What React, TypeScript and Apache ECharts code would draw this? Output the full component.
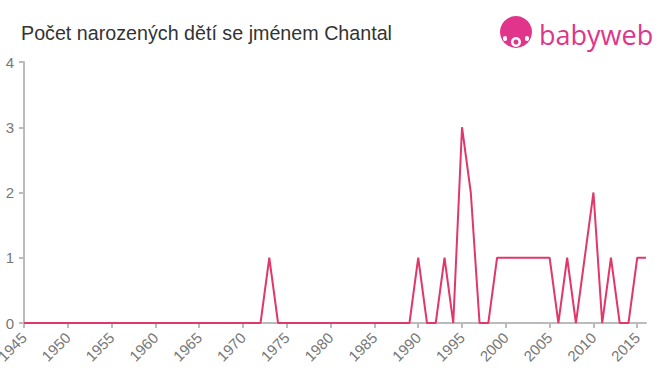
import React, { useEffect, useRef } from "react";
import * as echarts from "echarts";

const years: number[] = [];
for (let y = 1945; y <= 2016; y++) years.push(y);

const nonZero: Record<number, number> = {
  1973: 1,
  1990: 1,
  1993: 1,
  1995: 3,
  1996: 2,
  1999: 1,
  2000: 1,
  2001: 1,
  2002: 1,
  2003: 1,
  2004: 1,
  2005: 1,
  2007: 1,
  2009: 1,
  2010: 2,
  2012: 1,
  2015: 1,
  2016: 1,
};

const counts: number[] = years.map((y) => nonZero[y] ?? 0);

const title = "Počet narozených dětí se jménem Chantal";

export default function App() {
  const ref = useRef<HTMLDivElement>(null);
  useEffect(() => {
    const chart = echarts.init(ref.current!, null, { renderer: "svg" });
    chart.setOption({
      animation: false,
      title: {
        text: title,
        left: 16,
        top: 18,
        textStyle: { fontSize: 19.7, fontWeight: "normal", color: "#333", fontFamily: "Liberation Sans, Arial, sans-serif" },
      },
      graphic: [
        { type: "circle", shape: { cx: 516, cy: 32, r: 16 }, style: { fill: "#e0358a" } },
        { type: "circle", shape: { cx: 516, cy: 42, r: 5 }, style: { fill: "#fff" } },
        { type: "circle", shape: { cx: 516, cy: 42, r: 2.5 }, style: { fill: "#e0358a" } },
        { type: "rect", shape: { x: 503, y: 36, width: 4, height: 5, r: 2 }, style: { fill: "#fff" } },
        { type: "rect", shape: { x: 525, y: 36, width: 4, height: 5, r: 2 }, style: { fill: "#fff" } },
        {
          type: "text",
          x: 539,
          y: 34,
          style: {
            text: "babyweb",
            fill: "#e0358a",
            fontSize: 27,
            fontWeight: 500,
            fontFamily: "Open Sans, Arial, sans-serif",
            verticalAlign: "middle",
          },
        },
      ],
      grid: { left: 24, right: 14, top: 62, bottom: 52, outerBoundsMode: "none", containLabel: false },
      xAxis: {
        type: "value",
        min: 1945,
        max: 2016,
        interval: 5,
        axisLine: { lineStyle: { color: "#bbb", width: 2 } },
        axisTick: { show: true, length: 5, lineStyle: { color: "#bbb", width: 2 } },
        splitLine: { show: false },
        axisLabel: {
          rotate: 45,
          color: "#777",
          fontSize: 15,
          margin: 12,
          showMaxLabel: false,
          hideOverlap: false,
          formatter: (v: number) => String(v),
          fontFamily: "Liberation Sans, Arial, sans-serif",
        },
      },
      yAxis: {
        type: "value",
        min: 0,
        max: 4,
        interval: 1,
        axisLine: { show: true, lineStyle: { color: "#bbb", width: 2 } },
        axisTick: { show: true, length: 5, lineStyle: { color: "#bbb", width: 2 } },
        splitLine: { show: false },
        axisLabel: { color: "#777", fontSize: 15, margin: 10, fontFamily: "Liberation Sans, Arial, sans-serif" },
      },
      series: [
        {
          type: "line",
          data: years.map((y, i) => [y, counts[i]]),
          showSymbol: false,
          lineStyle: { color: "#e0386b", width: 2 },
          itemStyle: { color: "#e0386b" },
        },
      ],
    });
    return () => chart.dispose();
  }, []);
  return <div ref={ref} style={{ width: 660, height: 375, position: "absolute", left: 0, top: 0 }} />;
}
